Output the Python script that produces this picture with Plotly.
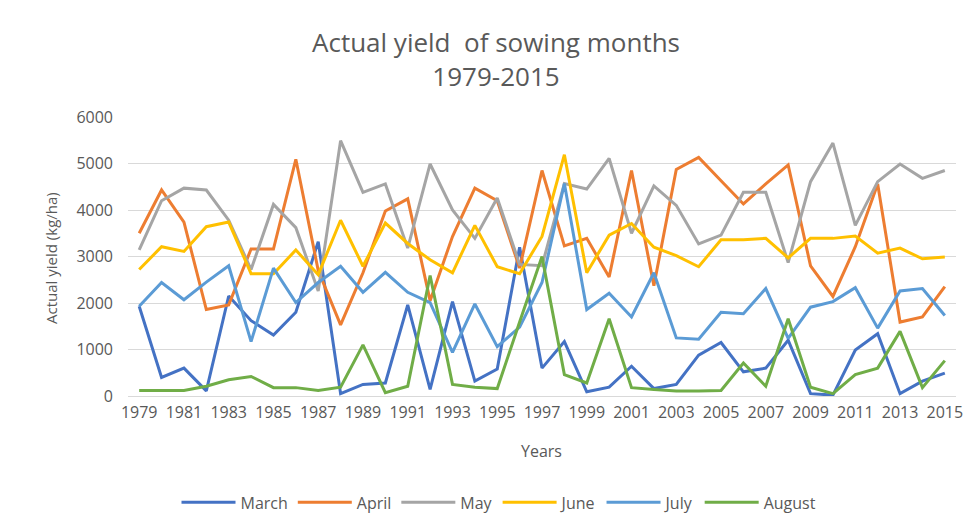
import plotly.graph_objects as go

years = [str(y) for y in range(1979, 2016)]

march = [1930, 400, 600, 110, 2150, 1620, 1310, 1800, 3320,
         50, 250, 280, 1960, 140, 2030, 320, 580, 3200,
         600, 1170, 90, 190, 640, 160, 250, 880, 1150,
         520, 600, 1200, 50, 20, 990, 1340, 50, 320, 490]
april = [3500, 4430, 3740, 1860, 1960, 3160, 3160, 5090, 2700,
         1530, 2650, 3980, 4240, 2050, 3430, 4470, 4200, 2750,
         4850, 3230, 3390, 2560, 4850, 2370, 4870, 5130, 4630,
         4130, 4560, 4970, 2800, 2140, 3210, 4560, 1590, 1700, 2350]
may = [3140, 4200, 4470, 4430, 3780, 2720, 4120, 3620, 2260,
       5490, 4380, 4560, 3180, 4990, 4000, 3390, 4260, 2830,
       2800, 4570, 4450, 5110, 3500, 4520, 4100, 3270, 3460,
       4380, 4380, 2870, 4610, 5440, 3670, 4610, 4990, 4680, 4850]
june = [2720, 3210, 3110, 3640, 3740, 2630, 2630, 3140, 2610,
        3780, 2790, 3720, 3280, 2930, 2650, 3670, 2780, 2630,
        3430, 5190, 2650, 3460, 3710, 3200, 3020, 2780, 3360,
        3360, 3390, 2970, 3390, 3390, 3440, 3070, 3180, 2950, 2990]
july = [1930, 2440, 2070, 2450, 2800, 1170, 2750, 2010, 2440,
        2790, 2230, 2660, 2230, 2010, 940, 1980, 1060, 1480,
        2440, 4570, 1860, 2210, 1700, 2650, 1250, 1220, 1800,
        1770, 2310, 1240, 1910, 2030, 2330, 1460, 2260, 2310, 1730]
august = [120, 120, 120, 210, 350, 420, 180, 180, 120,
          190, 1100, 70, 210, 2590, 250, 190, 160, 1590,
          3000, 460, 280, 1660, 180, 140, 110, 110, 120,
          710, 210, 1660, 190, 50, 460, 600, 1390, 180, 760]

series_names = ["March", "April", "May", "June", "July", "August"]
series_values = [march, april, may, june, july, august]
colors = ["#4472C4", "#ED7D31", "#A5A5A5", "#FFC000", "#5B9BD5", "#70AD47"]

# page body has an 8px margin: work in screen coords, convert to figure coords
OFF = 8
W, H = 976 - OFF, 531 - OFF
PL, PR, PT, PB = 128, 956, 117, 400          # plot area in screen coords
L, T = PL - OFF, PT - OFF
R = W - (PR - OFF)
B = H - (PB - OFF)
pw, ph = PR - PL, PB - PT

def px(x):
    return (x - PL) / pw

def py(y):
    return (PB - y) / ph

FONT = "Open Sans"
GREY = "#595959"

fig = go.Figure()
for name, vals, c in zip(series_names, series_values, colors):
    fig.add_trace(go.Scatter(x=years, y=vals, name=name, mode="lines",
                             line=dict(color=c, width=3)))

fig.update_layout(
    width=W, height=H,
    margin=dict(l=L, r=R, t=T, b=B),
    plot_bgcolor="white", paper_bgcolor="white",
    font=dict(family=FONT, color=GREY),
    xaxis=dict(type="category", range=[-0.5, 36.5], tickvals=years[::2],
               showgrid=False, showline=True, linecolor="#d9d9d9", linewidth=1,
               ticks="", tickfont=dict(size=16, color=GREY), ticklabelstandoff=2),
    yaxis=dict(range=[0, 6000], dtick=1000, showgrid=True, gridcolor="#d9d9d9",
               gridwidth=1, zeroline=False, showline=False, ticks="",
               tickfont=dict(size=16, color=GREY), ticklabelstandoff=14),
    legend=dict(orientation="h", x=px(499), xanchor="center", y=py(508),
                yanchor="middle", font=dict(size=16, color=GREY),
                itemwidth=54, bgcolor="rgba(0,0,0,0)"),
    showlegend=True,
)

fig.add_annotation(text="Actual yield  of sowing months<br>1979-2015",
                   xref="paper", yref="paper",
                   x=px(496), y=py(58), showarrow=False,
                   xanchor="center", yanchor="middle", align="center",
                   font=dict(size=26, color=GREY, family=FONT))
fig.add_annotation(text="Actual yield (kg/ha)", xref="paper", yref="paper",
                   x=px(51), y=py(260), showarrow=False, textangle=-90,
                   xanchor="center", yanchor="middle",
                   font=dict(size=15, color=GREY, family=FONT))
fig.add_annotation(text="Years", xref="paper", yref="paper",
                   x=px(541), y=py(456), showarrow=False,
                   xanchor="center", yanchor="middle",
                   font=dict(size=16, color=GREY, family=FONT))

fig.write_html("out.html")
